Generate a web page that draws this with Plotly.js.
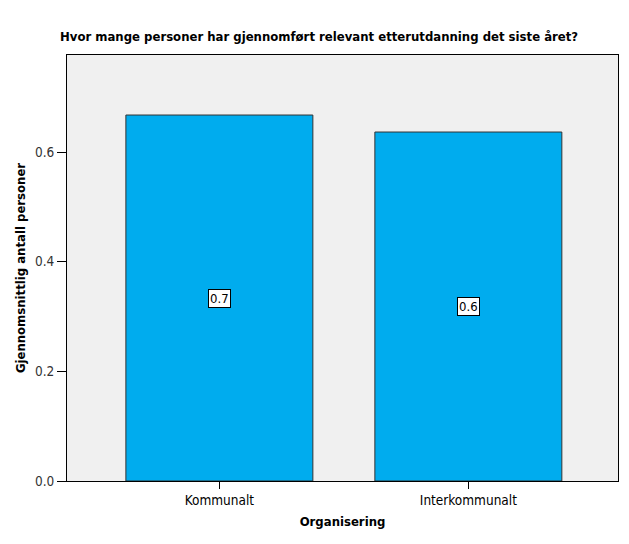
<!DOCTYPE html>
<html><head><meta charset="utf-8">
<script src="https://cdn.plot.ly/plotly-3.0.1.min.js"></script>
<style>body{margin:0;background:#fff}#c{width:629px;height:544px}</style>
</head><body><div id="c"></div>
<script>
const categories = ["Kommunalt", "Interkommunalt"];
const values = [0.6675, 0.6365];
const valueLabels = ["0.7", "0.6"];
const yTicks = [0.0, 0.2, 0.4, 0.6];
const yTickText = ["0.0", "0.2", "0.4", "0.6"];

const FONT = "DejaVu Sans Condensed, Liberation Sans Narrow, sans-serif";

const trace = {
  type: "bar", x: categories, y: values, width: 0.751,
  marker: {color: "#00ACEE", line: {color: "#333333", width: 1}},
  hoverinfo: "none"
};

const annotations = categories.map((c, i) => ({
  x: c, y: values[i] / 2, xref: "x", yref: "y", text: valueLabels[i],
  showarrow: false, bgcolor: "#ffffff", bordercolor: "#000000", borderwidth: 1,
  borderpad: 1, font: {family: FONT, size: 13, color: "#000"}
}));

const layout = {
  width: 629, height: 544,
  margin: {l: 67, r: 11, t: 55, b: 63},
  paper_bgcolor: "#ffffff", plot_bgcolor: "#F0F0F0",
  font: {family: FONT, size: 12, color: "#000"},
  showlegend: false,
  title: {text: "<b>Hvor mange personer har gjennomført relevant etterutdanning det siste året?</b>",
    x: 60/629, xanchor: "left", y: 1 - 36/544, yanchor: "middle",
    font: {family: FONT, size: 13, color: "#000"}},
  xaxis: {type: "category", range: [-0.612, 1.601], showgrid: false, zeroline: false,
    showline: true, linecolor: "#000", linewidth: 1, mirror: true,
    ticks: "outside", ticklen: 7, tickcolor: "#000",
    tickfont: {family: FONT, size: 13.5, color: "#000"},
    title: {text: "<b>Organisering</b>", standoff: 9, font: {family: FONT, size: 13, color: "#000"}}},
  yaxis: {range: [0, 0.777], tickvals: yTicks, ticktext: yTickText, showgrid: false, zeroline: false,
    showline: true, linecolor: "#000", linewidth: 1, mirror: true,
    ticks: "outside", ticklen: 9, tickcolor: "#000",
    tickfont: {family: FONT, size: 13.5, color: "#333"},
    title: {text: "<b>Gjennomsnittlig antall personer</b>", standoff: 6, font: {family: FONT, size: 13, color: "#000"}}},
  annotations: annotations
};

Plotly.newPlot("c", [trace], layout, {displayModeBar: false, staticPlot: true});
</script></body></html>
